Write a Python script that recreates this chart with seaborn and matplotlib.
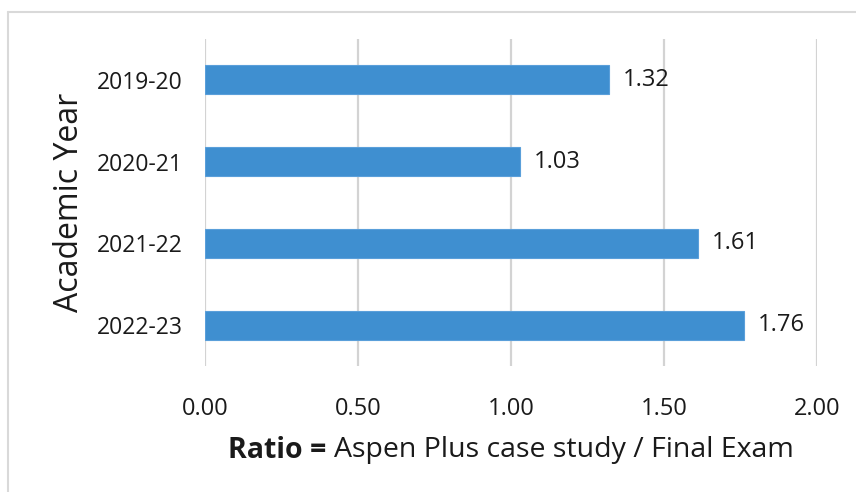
import matplotlib
matplotlib.use("Agg")
import matplotlib.pyplot as plt
import seaborn as sns
import pandas as pd
from matplotlib.lines import Line2D
from matplotlib.offsetbox import TextArea, HPacker, AnchoredOffsetbox

years = ["2019-20", "2020-21", "2021-22", "2022-23"]
ratios = [1.32, 1.03, 1.61, 1.76]
xticks = [0.0, 0.5, 1.0, 1.5, 2.0]
xtick_labels = ["0.00", "0.50", "1.00", "1.50", "2.00"]

df = pd.DataFrame({"year": years, "ratio": ratios})

sns.set_theme(style="white")
plt.rcParams["font.family"] = ["Open Sans", "DejaVu Sans"]
FAM = ["Open Sans", "DejaVu Sans"]
TXT = "#1a1a1a"

fig = plt.figure(figsize=(8.56, 4.92), dpi=100)
ax = fig.add_axes([205/856, 1-366/492, (817-205)/856, (366-39)/492])

sns.barplot(data=df, x="ratio", y="year", orient="h", color="#3F8FD0",
            saturation=1, width=0.355, ax=ax, edgecolor="#5A9FDA", linewidth=0.8)

ax.set_xlim(0, 2.0)
ax.set_ylim(3.5, -0.5)
ax.set_xticks(xticks)
ax.set_xticklabels(xtick_labels, fontsize=17, color=TXT)
ax.tick_params(axis="y", labelsize=16.5, labelcolor=TXT, length=0, pad=16)
ax.tick_params(axis="x", length=0, pad=22)
ax.xaxis.grid(True, color="#d3d3d3", linewidth=1.6)
ax.set_axisbelow(True)
for s in ax.spines.values():
    s.set_visible(False)

for i, v in enumerate(ratios):
    ax.text(v + 0.045, i, f"{v:.2f}", va="center", ha="left", fontsize=17, color=TXT)

ax.set_ylabel("Academic Year", fontsize=23, color=TXT, labelpad=8)
ax.set_xlabel("")

# xlabel with bold part
t1 = TextArea("Ratio = ", textprops=dict(fontsize=20.5, fontweight="bold", color=TXT, family=FAM))
t2 = TextArea("Aspen Plus case study / Final Exam", textprops=dict(fontsize=20.5, color=TXT, family=FAM))
box = HPacker(children=[t1, t2], align="baseline", pad=0, sep=0)
anch = AnchoredOffsetbox(loc="center", child=box, frameon=False,
                         bbox_to_anchor=(511/856, 1-450/492), bbox_transform=fig.transFigure,
                         pad=0, borderpad=0)
fig.add_artist(anch)

fig.add_artist(Line2D([8/856, 1], [1-12/492, 1-12/492], transform=fig.transFigure, color="#d9d9d9", linewidth=1.5))
fig.add_artist(Line2D([8/856, 8/856], [0, 1-12/492], transform=fig.transFigure, color="#d9d9d9", linewidth=1.5))

fig.savefig("out.png", dpi=100, facecolor="white")
